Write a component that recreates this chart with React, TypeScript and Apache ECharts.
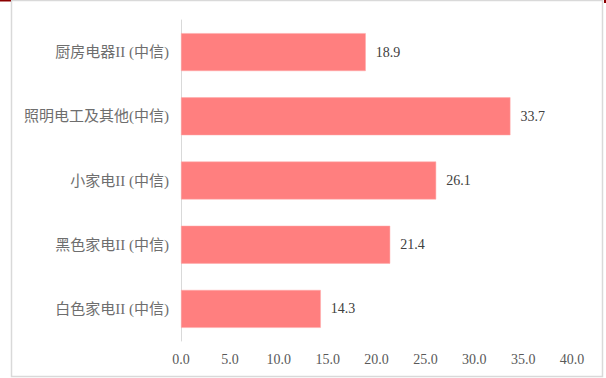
import React, { useEffect, useRef } from "react";
import * as echarts from "echarts";

const categories = [
  "厨房电器II (中信)",
  "照明电工及其他(中信)",
  "小家电II (中信)",
  "黑色家电II (中信)",
  "白色家电II (中信)",
];
const values = [18.9, 33.7, 26.1, 21.4, 14.3];

const FONT = "'Liberation Serif', 'Noto Sans CJK SC', serif";

export default function App() {
  const ref = useRef<HTMLDivElement>(null);
  useEffect(() => {
    if (!ref.current) return;
    const chart = echarts.init(ref.current, null, { renderer: "svg" });
    chart.setOption({
      animation: false,
      backgroundColor: "#ffffff",
      grid: { left: 181, right: 34, top: 20, bottom: 37, containLabel: false },
      xAxis: {
        type: "value",
        min: 0,
        max: 40,
        interval: 5,
        axisLine: { show: false },
        axisTick: { show: false },
        splitLine: { show: false },
        axisLabel: {
          formatter: (v: number) => v.toFixed(1),
          color: "#595959",
          fontFamily: FONT,
          fontSize: 14,
          margin: 11,
        },
      },
      yAxis: {
        type: "category",
        inverse: true,
        data: categories,
        axisLine: { show: true, lineStyle: { color: "#d9d9d9", width: 1 } },
        axisTick: { show: false },
        axisLabel: {
          color: "#6e6e6e",
          fontFamily: FONT,
          fontSize: 15,
          margin: 12,
        },
      },
      series: [
        {
          type: "bar",
          data: values,
          barCategoryGap: "41%",
          itemStyle: { color: "#FF7F7F", borderColor: "#FFA8A8", borderWidth: 0.5 },
          label: {
            show: true,
            position: "right",
            distance: 10,
            color: "#404040",
            fontFamily: FONT,
            fontSize: 14,
            formatter: (p: any) => Number(p.value).toFixed(1),
          },
        },
      ],
      graphic: [
        {
          type: "rect",
          shape: { x: 11.5, y: 0.5, width: 591, height: 376 },
          style: { fill: "none", stroke: "#d9d9d9", lineWidth: 1.5 },
          silent: true,
        },
        {
          type: "rect",
          shape: { x: 0, y: 0, width: 11, height: 1.5 },
          style: { fill: "#8B0000" },
          silent: true,
        },
        {
          type: "rect",
          shape: { x: 604, y: 0, width: 2, height: 3 },
          style: { fill: "#8B0000" },
          silent: true,
        },
      ],
    });
    return () => chart.dispose();
  }, []);
  return (
    <div
      ref={ref}
      style={{ position: "fixed", left: 0, top: 0, width: 606, height: 378 }}
    />
  );
}
